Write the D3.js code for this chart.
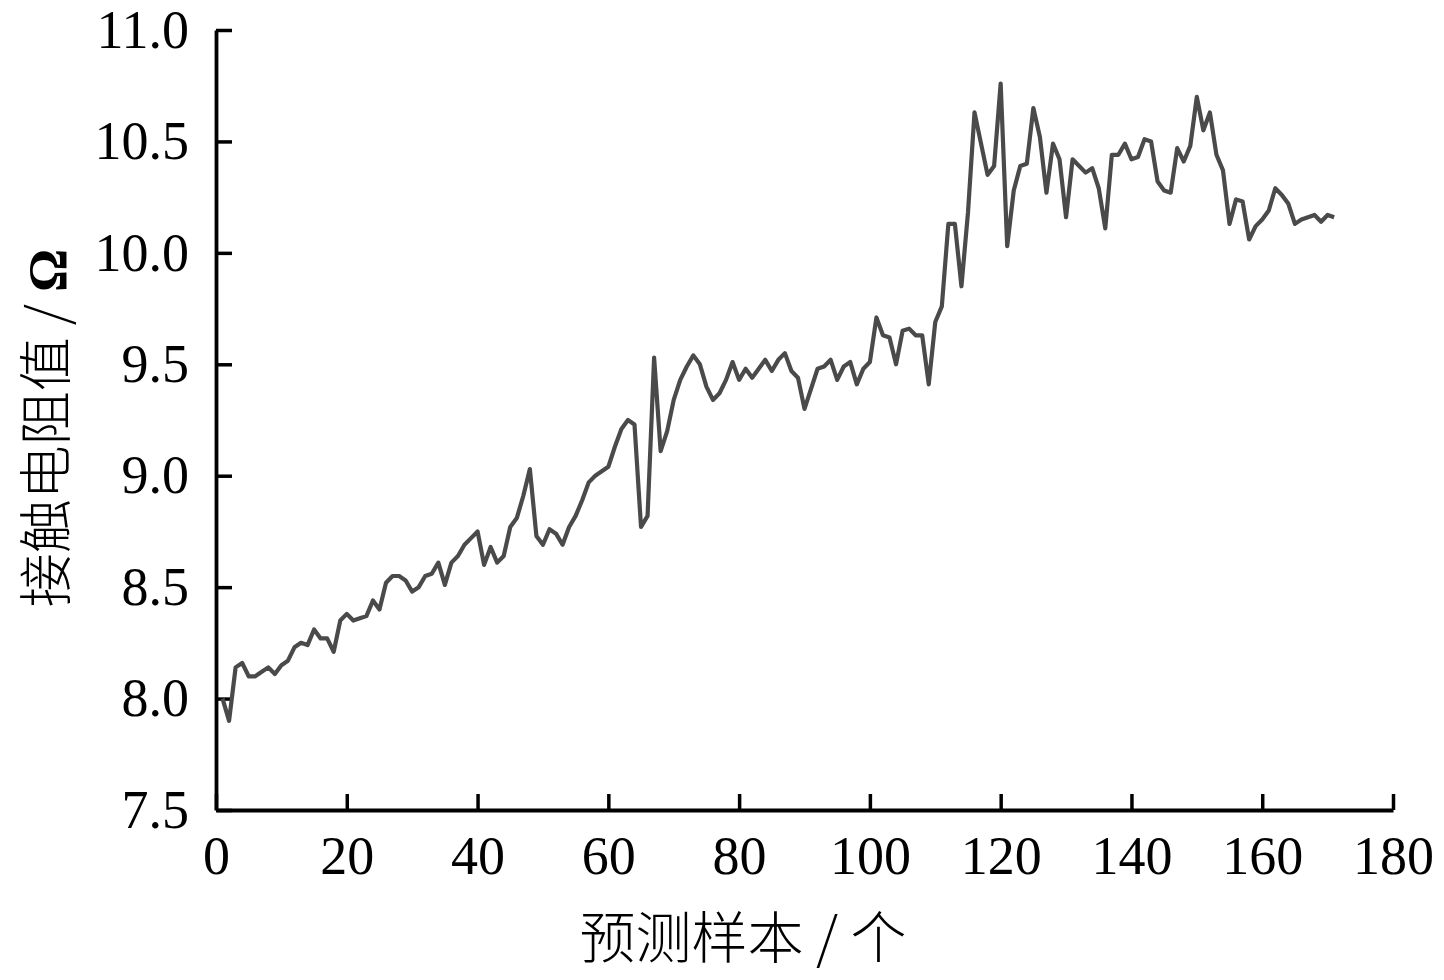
<!DOCTYPE html>
<html>
<head>
<meta charset="utf-8">
<script src="https://cdn.jsdelivr.net/npm/d3@7"></script>
<style>
  html, body { margin: 0; padding: 0; background: #fff; }
  svg { display: block; }
</style>
</head>
<body>
<svg id="chart" width="1444" height="980"></svg>
<script>
// ---- data ----
const sampleStart = 1;
const resistance = [
  8.00, 7.90, 8.14, 8.16, 8.10, 8.10, 8.12, 8.14, 8.11, 8.15,
  8.17, 8.23, 8.25, 8.24, 8.31, 8.27, 8.27, 8.21, 8.35, 8.38,
  8.35, 8.36, 8.37, 8.44, 8.40, 8.52, 8.55, 8.55, 8.53, 8.48,
  8.50, 8.55, 8.56, 8.61, 8.51, 8.61, 8.64, 8.69, 8.72, 8.75,
  8.60, 8.68, 8.61, 8.64, 8.77, 8.81, 8.91, 9.03, 8.73, 8.69,
  8.76, 8.74, 8.69, 8.77, 8.82, 8.89, 8.97, 9.00, 9.02, 9.04,
  9.13, 9.21, 9.25, 9.23, 8.77, 8.82, 9.53, 9.11, 9.20, 9.34,
  9.43, 9.49, 9.54, 9.50, 9.40, 9.34, 9.37, 9.43, 9.51, 9.43,
  9.48, 9.44, 9.48, 9.52, 9.47, 9.52, 9.55, 9.47, 9.44, 9.30,
  9.39, 9.48, 9.49, 9.52, 9.43, 9.49, 9.51, 9.41, 9.48, 9.51,
  9.71, 9.63, 9.62, 9.50, 9.65, 9.66, 9.63, 9.63, 9.41, 9.69,
  9.76, 10.13, 10.13, 9.85, 10.18, 10.63, 10.49, 10.35, 10.39, 10.76,
  10.03, 10.28, 10.39, 10.40, 10.65, 10.52, 10.27, 10.49, 10.42, 10.16,
  10.42, 10.39, 10.36, 10.38, 10.29, 10.11, 10.44, 10.44, 10.49, 10.42,
  10.43, 10.51, 10.50, 10.32, 10.28, 10.27, 10.47, 10.41, 10.48, 10.70,
  10.55, 10.63, 10.44, 10.37, 10.13, 10.24, 10.23, 10.06, 10.12, 10.15,
  10.19, 10.29, 10.26, 10.22, 10.13, 10.15, 10.16, 10.17, 10.14, 10.17,
  10.16
];
const xTicks = [0, 20, 40, 60, 80, 100, 120, 140, 160, 180];
const yTicks = [7.5, 8.0, 8.5, 9.0, 9.5, 10.0, 10.5, 11.0];
const xTitle = "预测样本 / 个";
const yTitleMain = "接触电阻值 / ";
const yTitleUnit = "Ω";

// ---- layout ----
const svg = d3.select("#chart");
const x = d3.scaleLinear().domain([0, 180]).range([216, 1393]);
const y = d3.scaleLinear().domain([7.5, 11.0]).range([810, 30]);
const serif = "'Liberation Serif', 'Times New Roman', serif";
const cjk = "'Noto Sans CJK SC', sans-serif";

// x axis
const gx = svg.append("g")
  .attr("transform", "translate(0,810)")
  .call(d3.axisBottom(x).tickValues(xTicks).tickSize(-16).tickSizeOuter(0).tickPadding(26)
    .tickFormat(d3.format("d")));
// y axis
const gy = svg.append("g")
  .attr("transform", "translate(216,0)")
  .call(d3.axisLeft(y).tickValues(yTicks).tickSize(-16).tickSizeOuter(0).tickPadding(27)
    .tickFormat(d3.format(".1f")));

[gx, gy].forEach(g => {
  g.select(".domain").attr("stroke", "#000").attr("stroke-width", 3.8);
  g.selectAll(".tick line").attr("stroke", "#000").attr("stroke-width", 3.5);
  g.selectAll(".tick text")
    .attr("fill", "#000")
    .style("font-family", serif)
    .style("font-size", "54px");
});

// line
const line = d3.line()
  .x((d, i) => x(i + sampleStart))
  .y(d => y(d));
svg.append("path")
  .datum(resistance)
  .attr("fill", "none")
  .attr("stroke", "#4a4a4a")
  .attr("stroke-width", 4.2)
  .attr("stroke-linejoin", "round")
  .attr("d", line);

// titles
svg.append("text")
  .attr("x", 743).attr("y", 958)
  .attr("text-anchor", "middle")
  .style("font-family", cjk)
  .style("font-size", "56px")
  .style("font-weight", 300)
  .attr("fill", "#000")
  .text(xTitle);

const yt = svg.append("text")
  .attr("transform", "translate(66,428) rotate(-90)")
  .attr("text-anchor", "middle")
  .style("font-family", cjk)
  .style("font-size", "54px")
  .style("font-weight", 300)
  .attr("fill", "#000");
yt.append("tspan").text(yTitleMain);
yt.append("tspan").style("font-family", serif).style("font-weight", 700).text(yTitleUnit);
</script>
</body>
</html>
